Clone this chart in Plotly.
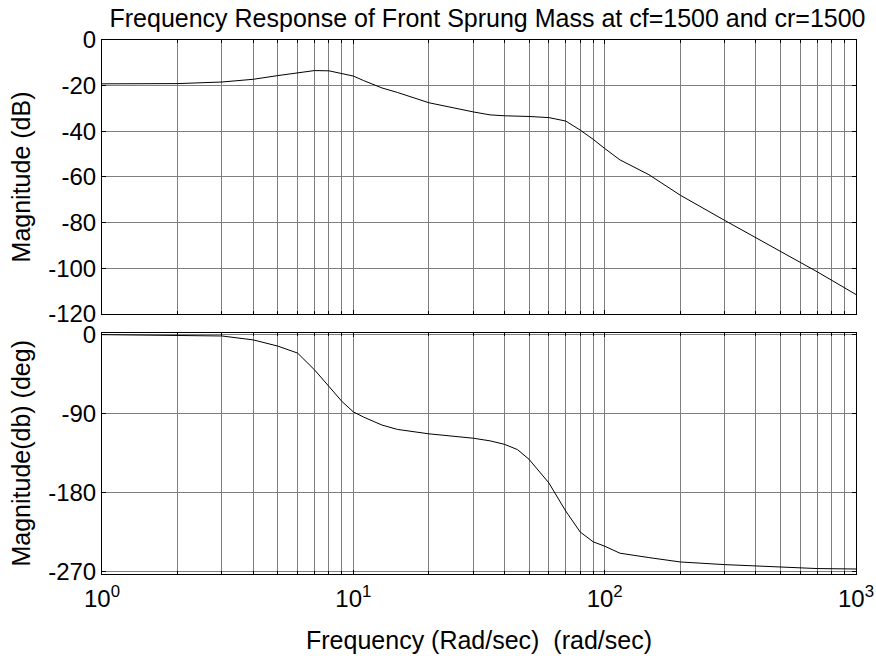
import plotly.graph_objects as go

# frequency points (rad/sec)
freq = [1, 2, 3, 4, 5, 6, 7, 8, 9, 10, 11, 13, 15, 20, 30, 35, 40, 45, 50, 60, 70,
        80, 90, 100, 115, 150, 200, 300, 500, 700, 1000]

# magnitude (dB)
mag = [-19.2, -19.1, -18.4, -17.2, -15.6, -14.3, -13.4, -13.5, -14.8, -15.8, -17.8,
       -21.0, -23.0, -27.5, -31.5, -32.8, -33.2, -33.3, -33.5, -34.0, -35.5,
       -39.5, -43.5, -47.5, -52.5, -59.0, -68.0, -79.0, -92.5, -101.5, -111.5]

# phase (deg)
phase = [0, -0.5, -1.5, -6, -13, -21, -40, -59, -76, -88, -94, -103, -108, -113,
         -118, -121, -125, -131, -142, -169, -201, -225, -236, -241, -249, -254,
         -259, -262, -265, -266.5, -267]

xtick_vals = [1, 10, 100, 1000]
xtick_text = ['10<sup>0</sup>', '10<sup>1</sup>', '10<sup>2</sup>', '10<sup>3</sup>']
mag_ticks = [0, -20, -40, -60, -80, -100, -120]
phase_ticks = [0, -90, -180, -270]

minor_vals = [m * 10 ** e for e in range(3) for m in range(2, 10)]

grid = '#7f7f7f'
font = 'Liberation Sans, Arial, sans-serif'

fig = go.Figure()
fig.add_trace(go.Scatter(x=freq, y=mag, mode='lines', line=dict(color='black', width=1),
                         xaxis='x', yaxis='y', showlegend=False))
fig.add_trace(go.Scatter(x=freq, y=phase, mode='lines', line=dict(color='black', width=1),
                         xaxis='x2', yaxis='y2', showlegend=False))

xcommon = dict(type='log', range=[0, 3], tickvals=xtick_vals, showgrid=True, gridcolor=grid,
               gridwidth=1, showline=True, linecolor='black', linewidth=1, mirror='ticks',
               ticks='inside', ticklen=4, tickcolor='black', zeroline=False, automargin=False,
               minor=dict(tickvals=minor_vals, ticks='inside', ticklen=3, tickcolor='black',
                          showgrid=True, gridcolor=grid, gridwidth=1))
ycommon = dict(showgrid=True, gridcolor=grid, gridwidth=1, showline=True, linecolor='black',
               linewidth=1, mirror='ticks', ticks='inside', ticklen=4, tickcolor='black',
               zeroline=False, automargin=False, ticklabelstandoff=0,
               tickfont=dict(size=24, color='black'))

fig.update_layout(
    width=876, height=656,
    paper_bgcolor='white', plot_bgcolor='white',
    font=dict(family=font, color='black'),
    margin=dict(l=102, r=20, t=40, b=82),
    title=dict(text='Frequency Response of Front Sprung Mass at cf=1500 and cr=1500',
               x=0.5565, xanchor='center', y=0.9726, yanchor='middle',
               font=dict(size=25, color='black')),
    xaxis=dict(xcommon, anchor='y', showticklabels=False),
    xaxis2=dict(xcommon, anchor='y2', ticktext=xtick_text, tickfont=dict(size=24),
                ticklabelstandoff=3,
                title=dict(text='Frequency (Rad/sec)  (rad/sec)', font=dict(size=25),
                           standoff=20)),
    yaxis=dict(ycommon, domain=[0.487, 1.0], range=[-120, 0], tickvals=mag_ticks,
               ticktext=[str(v) for v in mag_ticks],
               title=dict(text='Magnitude (dB)', font=dict(size=25), standoff=10)),
    yaxis2=dict(ycommon, domain=[0, 0.452], range=[-272.7, 2.3], tickvals=phase_ticks,
                ticktext=[str(v) for v in phase_ticks],
                title=dict(text='Magnitude(db) (deg)', font=dict(size=25), standoff=10)),
)

# the page body has a default margin; drop it so the figure sits at the top-left corner
fig.write_html("out.html", config={'displayModeBar': False},
               post_script="document.body.style.margin = '0px';")
